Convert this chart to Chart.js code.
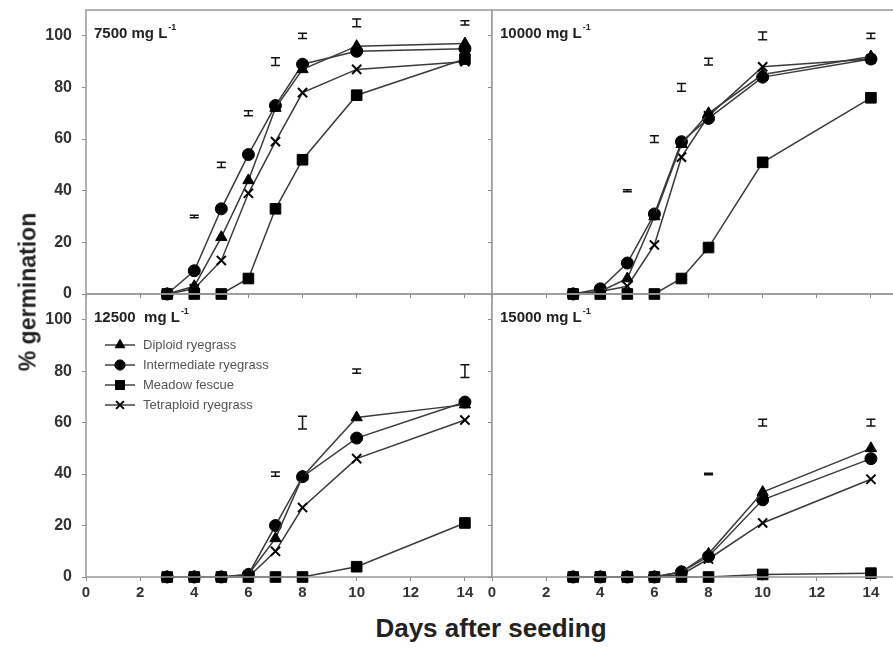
<!DOCTYPE html>
<html>
<head>
<meta charset="utf-8">
<script src="https://cdn.jsdelivr.net/npm/chart.js@4/dist/chart.umd.min.js"></script>
<style>
  html, body { margin: 0; padding: 0; background: #fff; overflow: hidden; width: 893px; height: 655px; }
  canvas { position: absolute; }
  .title { position: absolute; font-family: 'Liberation Sans', Arial, sans-serif; font-weight: bold; color: #222; white-space: nowrap; }
</style>
</head>
<body>
<canvas id="c7500" width="492" height="314" style="left:0;top:0"></canvas>
<canvas id="c10000" width="416" height="314" style="left:482px;top:0"></canvas>
<canvas id="c12500" width="492" height="323" style="left:0;top:284px"></canvas>
<canvas id="c15000" width="416" height="323" style="left:482px;top:284px"></canvas>
<div class="title" style="left:491px;top:628px;font-size:26px;transform:translate(-50%,-50%);">Days after seeding</div>
<div class="title" style="left:28px;top:292px;font-size:23px;transform:translate(-50%,-50%) rotate(-90deg);">% germination</div>
<script>
// days sampled
const days = [3, 4, 5, 6, 7, 8, 10, 14];
const seriesNames = ["Diploid ryegrass", "Intermediate ryegrass", "Meadow fescue", "Tetraploid ryegrass"];

// 7500 mg/L
const diploid7500 = [0, 3, 22, 44, 72, 87, 96, 97];
const inter7500 = [0, 9, 33, 54, 73, 89, 94, 95];
const meadow7500 = [0, 0, 0, 6, 33, 52, 77, 91];
const tetra7500 = [0, 2, 13, 39, 59, 78, 87, 90];
const errDays7500 = [4, 5, 6, 7, 8, 10, 14];
const errMid7500 = [30, 50, 70, 90, 100, 105, 105];
const errHalf7500 = [0.5, 1, 1, 1.5, 1, 1.5, 0.8];

// 10000 mg/L
const diploid10000 = [0, 1, 6, 30, 58, 70, 85, 92];
const inter10000 = [0, 2, 12, 31, 59, 68, 84, 91];
const meadow10000 = [0, 0, 0, 0, 6, 18, 51, 76];
const tetra10000 = [0, 1, 3, 19, 53, 69, 88, 91];
const errDays10000 = [5, 6, 7, 8, 10, 14];
const errMid10000 = [40, 60, 80, 90, 100, 100];
const errHalf10000 = [0.4, 1.3, 1.5, 1.3, 1.5, 1];

// 12500 mg/L
const diploid12500 = [0, 0, 0, 1, 15, 39, 62, 67];
const inter12500 = [0, 0, 0, 1, 20, 39, 54, 68];
const meadow12500 = [0, 0, 0, 0, 0, 0, 4, 21];
const tetra12500 = [0, 0, 0, 0, 10, 27, 46, 61];
const errDays12500 = [7, 8, 10, 14];
const errMid12500 = [40, 60, 80, 80];
const errHalf12500 = [0.8, 2.5, 0.8, 2.5];

// 15000 mg/L
const diploid15000 = [0, 0, 0, 0, 2, 9, 33, 50];
const inter15000 = [0, 0, 0, 0, 2, 8, 30, 46];
const meadow15000 = [0, 0, 0, 0, 0, 0, 1, 1.5];
const tetra15000 = [0, 0, 0, 0, 1, 7, 21, 38];
const errDays15000 = [8, 10, 14];
const errMid15000 = [40, 60, 60];
const errHalf15000 = [0.3, 1.3, 1.3];

const yTicks = [0, 20, 40, 60, 80, 100];
const xTicks = [0, 2, 4, 6, 8, 10, 12, 14];

const FONT = "'Liberation Sans', Arial, sans-serif";
Chart.defaults.font.family = FONT;

const styles = [
  { pointStyle: "triangle", radius: 6.5, bw: 1 },
  { pointStyle: "circle", radius: 6, bw: 1 },
  { pointStyle: "rect", radius: 7.5, bw: 1 },
  { pointStyle: "crossRot", radius: 6.5, bw: 2 },
];

function makeDatasets(list) {
  return list.map((vals, i) => ({
    label: seriesNames[i],
    data: days.map((d, j) => ({ x: d, y: vals[j] })),
    borderColor: "#3a3a3a",
    borderWidth: 1.5,
    backgroundColor: "#000",
    pointBackgroundColor: "#000",
    pointBorderColor: "#000",
    pointBorderWidth: styles[i].bw,
    pointStyle: styles[i].pointStyle,
    pointRadius: styles[i].radius,
    tension: 0,
    clip: false,
  }));
}

// drop the label paddings so every plot area sits exactly where it should
function noPad(s) {
  s.paddingTop = 0; s.paddingBottom = 0; s.paddingLeft = 0; s.paddingRight = 0;
}

// frame round each panel
const frame = {
  id: "frame",
  afterDraw(chart) {
    const { ctx, chartArea: a } = chart;
    ctx.save();
    ctx.strokeStyle = "#999";
    ctx.lineWidth = 1.5;
    ctx.strokeRect(a.left, a.top, a.right - a.left, a.bottom - a.top);
    ctx.restore();
  },
};

// floating error bars
const errBars = {
  id: "errBars",
  afterDatasetsDraw(chart, args, opts) {
    if (!opts.days) return;
    const { ctx } = chart;
    const xs = chart.scales.x, ys = chart.scales.y;
    ctx.save();
    ctx.strokeStyle = "#111";
    ctx.lineWidth = 1.5;
    opts.days.forEach((d, i) => {
      const x = xs.getPixelForValue(d);
      const yt = ys.getPixelForValue(opts.mids[i] + opts.halves[i]);
      const yb = ys.getPixelForValue(opts.mids[i] - opts.halves[i]);
      ctx.beginPath();
      ctx.moveTo(x, yt); ctx.lineTo(x, yb);
      ctx.moveTo(x - 4.5, yt); ctx.lineTo(x + 4.5, yt);
      ctx.moveTo(x - 4.5, yb); ctx.lineTo(x + 4.5, yb);
      ctx.stroke();
    });
    ctx.restore();
  },
};

// concentration label top-left of each panel
const panelLabel = {
  id: "panelLabel",
  afterDraw(chart, args, opts) {
    if (!opts.text) return;
    const { ctx, chartArea: a } = chart;
    ctx.save();
    ctx.fillStyle = "#222";
    ctx.font = "bold 15px " + FONT;
    ctx.textBaseline = "alphabetic";
    ctx.fillText(opts.text, a.left + 8, a.top + 28);
    const w = ctx.measureText(opts.text).width;
    ctx.font = "bold 9px " + FONT;
    ctx.fillText("-1", a.left + 9 + w, a.top + 20);
    ctx.restore();
  },
};

// legend drawn inside the 12500 panel
const innerLegend = {
  id: "innerLegend",
  afterDraw(chart, args, opts) {
    if (!opts.show) return;
    const { ctx, chartArea: a } = chart;
    ctx.save();
    chart.data.datasets.forEach((ds, i) => {
      const y = a.top + 51 + i * 20;
      const x0 = a.left + 19;
      ctx.strokeStyle = "#444";
      ctx.lineWidth = 1.5;
      ctx.beginPath();
      ctx.moveTo(x0, y); ctx.lineTo(x0 + 30, y);
      ctx.stroke();
      ctx.fillStyle = "#000";
      ctx.strokeStyle = "#000";
      ctx.lineWidth = ds.pointBorderWidth;
      Chart.helpers.drawPoint(ctx, { pointStyle: ds.pointStyle, radius: ds.pointRadius * 0.85, rotation: 0, borderWidth: ds.pointBorderWidth }, x0 + 15, y);
      ctx.fillStyle = "#555";
      ctx.font = "13px " + FONT;
      ctx.textBaseline = "middle";
      ctx.fillText(ds.label, x0 + 38, y);
    });
    ctx.restore();
  },
};

function panel(id, label, list, eDays, eMid, eHalf, showX, showY, legend) {
  new Chart(document.getElementById(id), {
    type: "line",
    data: { datasets: makeDatasets(list) },
    plugins: [frame, errBars, panelLabel, innerLegend],
    options: {
      responsive: false,
      animation: false,
      layout: { autoPadding: false, padding: { top: 10, right: 0, left: 0, bottom: 0 } },
      plugins: {
        legend: { display: false },
        tooltip: { enabled: false },
        errBars: { days: eDays, mids: eMid, halves: eHalf },
        panelLabel: { text: label },
        innerLegend: { show: legend },
      },
      scales: {
        x: {
          type: "linear", min: 0, max: 15,
          afterBuildTicks: (s) => { s.ticks = xTicks.map((v) => ({ value: v })); },
          ticks: { display: showX, color: "#333", font: { size: 15, weight: "bold" }, padding: 3 },
          grid: { drawOnChartArea: false, tickLength: 4, color: "#888" },
          border: { display: false },
          afterFit: (s) => { s.height = showX ? 30 : 20; noPad(s); },
        },
        y: {
          type: "linear", min: 0, max: 110,
          afterBuildTicks: (s) => { s.ticks = yTicks.map((v) => ({ value: v })); },
          ticks: { display: showY, color: "#333", font: { size: 16, weight: "bold" }, padding: 10 },
          grid: { drawOnChartArea: false, tickLength: 4, color: "#888" },
          border: { display: false },
          afterFit: (s) => { s.width = showY ? 86 : 10; noPad(s); },
        },
      },
    },
  });
}

panel("c7500", "7500 mg L", [diploid7500, inter7500, meadow7500, tetra7500], errDays7500, errMid7500, errHalf7500, false, true, false);
panel("c10000", "10000 mg L", [diploid10000, inter10000, meadow10000, tetra10000], errDays10000, errMid10000, errHalf10000, false, false, false);
panel("c12500", "12500  mg L", [diploid12500, inter12500, meadow12500, tetra12500], errDays12500, errMid12500, errHalf12500, true, true, true);
panel("c15000", "15000 mg L", [diploid15000, inter15000, meadow15000, tetra15000], errDays15000, errMid15000, errHalf15000, true, false, false);
</script>
</body>
</html>
